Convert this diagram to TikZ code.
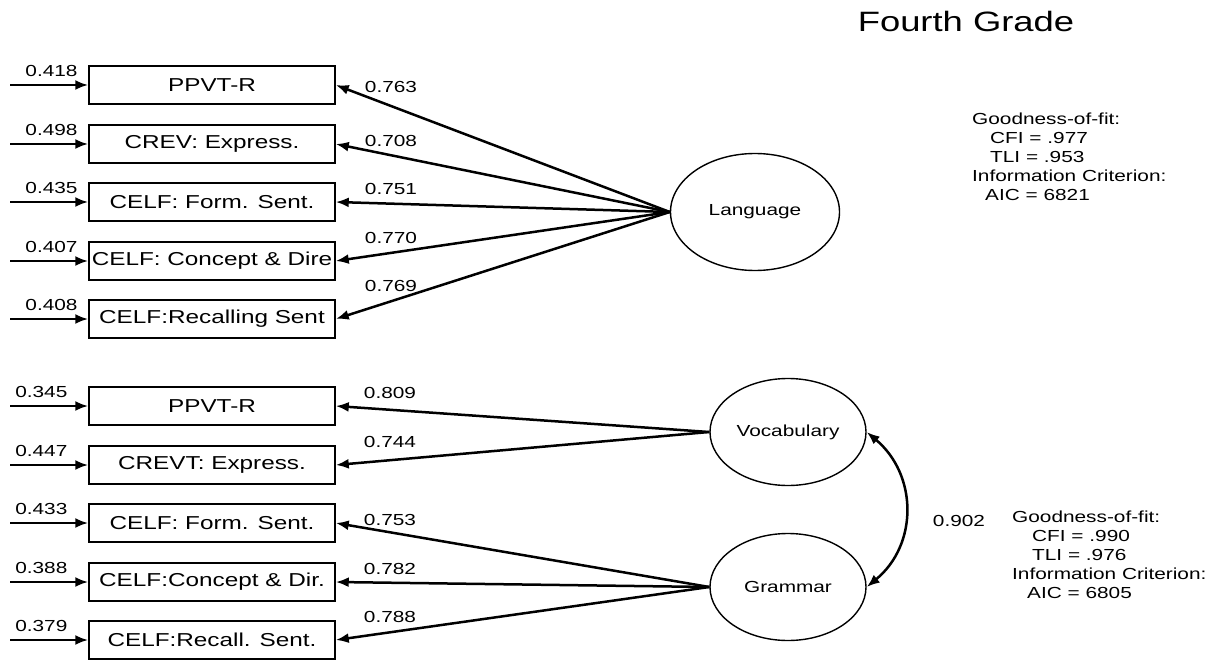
\documentclass[tikz,border=0pt]{standalone}
\usepackage{fontspec}
\setmainfont{Liberation Sans}[FakeStretch=1.3]
\usetikzlibrary{arrows.meta,shapes.geometric}

\tikzset{
  obs/.style={draw, line width=1.5pt, minimum width=246pt, minimum height=38pt,
    inner sep=0pt, font=\fontsize{18.7}{22}\selectfont},
  lat/.style={draw, ellipse, line width=1.4pt, inner sep=0pt,
    font=\fontsize{16}{19}\selectfont},
  arr/.style={line width=2.5pt, -{Latex[length=13pt,width=10pt]}},
  dblarr/.style={line width=2.5pt, {Latex[length=13pt,width=10pt]}-{Latex[length=13pt,width=10pt]}},
  num/.style={font=\fontsize{16}{19}\selectfont, inner sep=1pt},
  gof/.style={font=\fontsize{16}{19}\selectfont, align=left, anchor=north west, inner sep=0pt}
}

\begin{document}
\begin{tikzpicture}[x=1pt, y=-1pt]
    \useasboundingbox (0,0) rectangle (1220,660);

    % Titolo
    \node[font=\fontsize{28}{32}\selectfont] (title) at (966,21) {Fourth Grade};

    % Modello a un fattore
    \node[lat, minimum width=169pt, minimum height=117pt] (lang) at (755,212) {Language};
    \foreach \i/\y/\txt/\err/\lam/\ly in {1/85/PPVT-R/0.418/0.763/87,
        2/144/CREV: Express./0.498/0.708/141,
        3/202/CELF: Form. Sent./0.435/0.751/189,
        4/261/CELF: Concept \& Dire/0.407/0.770/238,
        5/319/CELF:Recalling Sent/0.408/0.769/286} {
        \node[obs] (a\i) at (212,\y) {\txt};
        \coordinate (ea\i) at (10,\y);
        \draw[arr] (ea\i) -- node[num, above=6pt, pos=0.53] {\err} (a\i.west);
        \draw[arr] (lang.west) -- (a\i.east);
        \node[num] (la\i) at (391,\ly) {\lam};
    }
    \node[gof] (gofa) at (972,113) {Goodness-of-fit:\\
        \hspace*{18pt}CFI = .977\\
        \hspace*{18pt}TLI = .953\\
        Information Criterion:\\
        \hspace*{13pt}AIC = 6821};

    % Modello a due fattori
    \node[lat, minimum width=156pt, minimum height=107pt] (voc) at (788,432) {Vocabulary};
    \node[lat, minimum width=156pt, minimum height=107pt] (gram) at (788,587) {Grammar};
    \foreach \i/\y/\txt/\err/\lam/\ly/\src in {1/406/PPVT-R/0.345/0.809/393/voc,
        2/465/CREVT: Express./0.447/0.744/442/voc,
        3/523/CELF: Form. Sent./0.433/0.753/520/gram,
        4/582/CELF:Concept \& Dir./0.388/0.782/569/gram,
        5/640/CELF:Recall. Sent./0.379/0.788/617/gram} {
        \node[obs] (b\i) at (212,\y) {\txt};
        \coordinate (eb\i) at (10,\y);
        \draw[arr] (eb\i) -- node[num, above=6pt, pos=0.4] {\err} (b\i.west);
        \draw[arr] (\src.west) -- (b\i.east);
        \node[num] (lb\i) at (390,\ly) {\lam};
    }
    \draw[dblarr] (voc.east) .. controls (918,475) and (918,545) .. (gram.east);
    \node[num] (corr) at (959,521) {0.902};
    \node[gof] (gofb) at (1012,511) {Goodness-of-fit:\\
        \hspace*{20pt}CFI = .990\\
        \hspace*{20pt}TLI = .976\\
        Information Criterion:\\
        \hspace*{15pt}AIC = 6805};
\end{tikzpicture}
\end{document}
